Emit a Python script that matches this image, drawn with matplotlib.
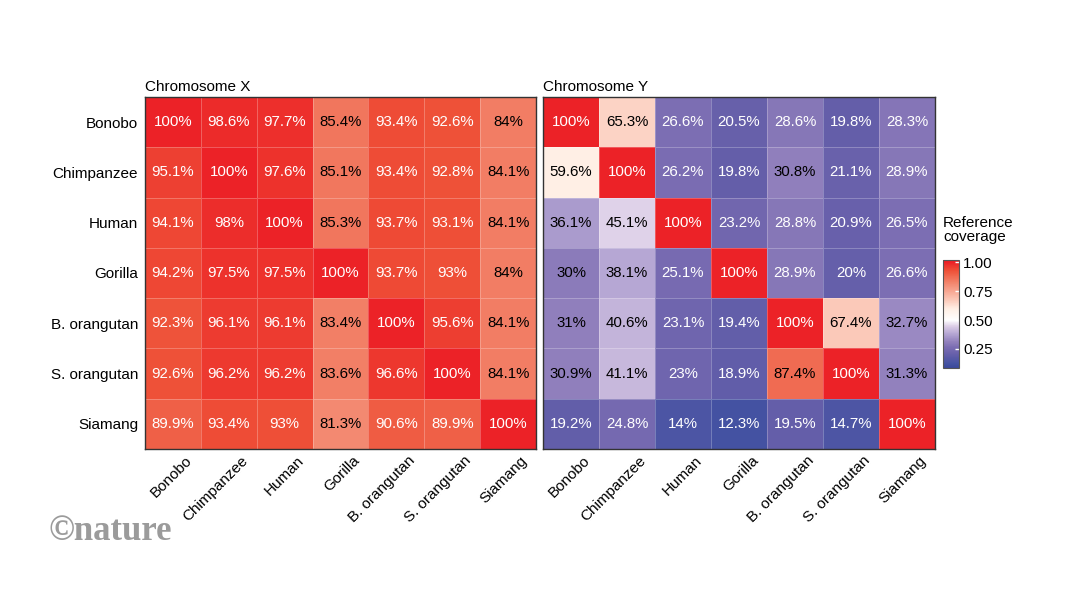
import numpy as np
import matplotlib
matplotlib.use("Agg")
import matplotlib.pyplot as plt
from matplotlib.colors import LinearSegmentedColormap, Normalize
from matplotlib.transforms import ScaledTranslation

plt.rcParams['font.family'] = ['Liberation Sans', 'DejaVu Sans']

species = ["Bonobo", "Chimpanzee", "Human", "Gorilla",
           "B. orangutan", "S. orangutan", "Siamang"]

# coverage in percent, rows = species, columns = reference
chrX = [
    [100, 98.6, 97.7, 85.4, 93.4, 92.6, 84],
    [95.1, 100, 97.6, 85.1, 93.4, 92.8, 84.1],
    [94.1, 98, 100, 85.3, 93.7, 93.1, 84.1],
    [94.2, 97.5, 97.5, 100, 93.7, 93, 84],
    [92.3, 96.1, 96.1, 83.4, 100, 95.6, 84.1],
    [92.6, 96.2, 96.2, 83.6, 96.6, 100, 84.1],
    [89.9, 93.4, 93, 81.3, 90.6, 89.9, 100],
]
chrY = [
    [100, 65.3, 26.6, 20.5, 28.6, 19.8, 28.3],
    [59.6, 100, 26.2, 19.8, 30.8, 21.1, 28.9],
    [36.1, 45.1, 100, 23.2, 28.8, 20.9, 26.5],
    [30, 38.1, 25.1, 100, 28.9, 20, 26.6],
    [31, 40.6, 23.1, 19.4, 100, 67.4, 32.7],
    [30.9, 41.1, 23, 18.9, 87.4, 100, 31.3],
    [19.2, 24.8, 14, 12.3, 19.5, 14.7, 100],
]
titles = ["Chromosome X", "Chromosome Y"]

# colour scale (blue - white - red)
vmin, vmax = 0.085, 1.02
stops = [
    (0.085, (58, 72, 155)),
    (0.123, (68, 82, 162)),
    (0.20, (102, 95, 170)),
    (0.26, (122, 108, 178)),
    (0.31, (145, 128, 188)),
    (0.36, (170, 155, 205)),
    (0.41, (198, 183, 220)),
    (0.45, (222, 208, 232)),
    (0.50, (255, 255, 255)),
    (0.60, (255, 238, 228)),
    (0.66, (252, 208, 193)),
    (0.84, (242, 125, 100)),
    (0.93, (238, 80, 55)),
    (1.00, (236, 34, 39)),
    (1.02, (236, 30, 36)),
]
cmap = LinearSegmentedColormap.from_list(
    "cov", [((v - vmin) / (vmax - vmin), tuple(c / 255 for c in rgb)) for v, rgb in stops])
norm = Normalize(vmin, vmax)

fig = plt.figure(figsize=(10.66, 6), dpi=100)
ax1 = fig.add_axes([145 / 1066, 1 - 449 / 600, 391 / 1066, 352 / 600])
ax2 = fig.add_axes([543 / 1066, 1 - 449 / 600, 392 / 1066, 352 / 600])

shift = ScaledTranslation(12 / 100, 4 / 100, fig.dpi_scale_trans)

for ax, data, title in zip([ax1, ax2], [chrX, chrY], titles):
    m = np.array(data) / 100
    im = ax.pcolormesh(m, cmap=cmap, norm=norm, edgecolors=(1, 1, 1, 0.25), linewidth=0.6)
    ax.set_xlim(0, 7)
    ax.set_ylim(7, 0)
    for i in range(7):
        for j in range(7):
            v = m[i, j]
            col = "black" if 0.295 <= v <= 0.88 else "white"
            ax.text(j + 0.5, i + 0.5, f"{data[i][j]:g}%", ha="center", va="center",
                    fontsize=10.8, color=col)
    ax.set_xticks(np.arange(7) + 0.5)
    ax.set_xticklabels(species, rotation=45, ha="right", va="top",
                       rotation_mode="anchor", fontsize=11)
    ax.tick_params(length=0, pad=6)
    if ax is ax1:
        ax.set_yticks(np.arange(7) + 0.5)
        ax.set_yticklabels(species, fontsize=11)
        ax.tick_params(axis="y", pad=5)
    else:
        ax.set_yticks([])
    for s in ax.spines.values():
        s.set_color("#333333")
        s.set_linewidth(1)
    ax.set_title(title, loc="left", fontsize=11, pad=4)
    # nudge rotated x labels like the original
    for lab in ax.get_xticklabels():
        lab.set_transform(lab.get_transform() + shift)

cax = fig.add_axes([943 / 1066, 1 - 368 / 600, 16 / 1066, 108 / 600])
cb = fig.colorbar(im, cax=cax)
cb.set_ticks([0.25, 0.5, 0.75, 1.0])
cb.set_ticklabels(["0.25", "0.50", "0.75", "1.00"])
cb.ax.tick_params(direction="in", length=3, color="white", width=1,
                  labelsize=11, pad=3)
cb.outline.set_edgecolor("#555555")
cb.outline.set_linewidth(0.8)
fig.text(943 / 1066, 1 - 216 / 600, "Reference\ncoverage", ha="left", va="top",
         fontsize=11, linespacing=1.0)

fig.text(48 / 1066, 1 - 540 / 600, "©nature", family="Liberation Serif",
         weight="bold", fontsize=25, color="#9B9B9B", ha="left", va="baseline")

fig.savefig("out.png", dpi=100)
